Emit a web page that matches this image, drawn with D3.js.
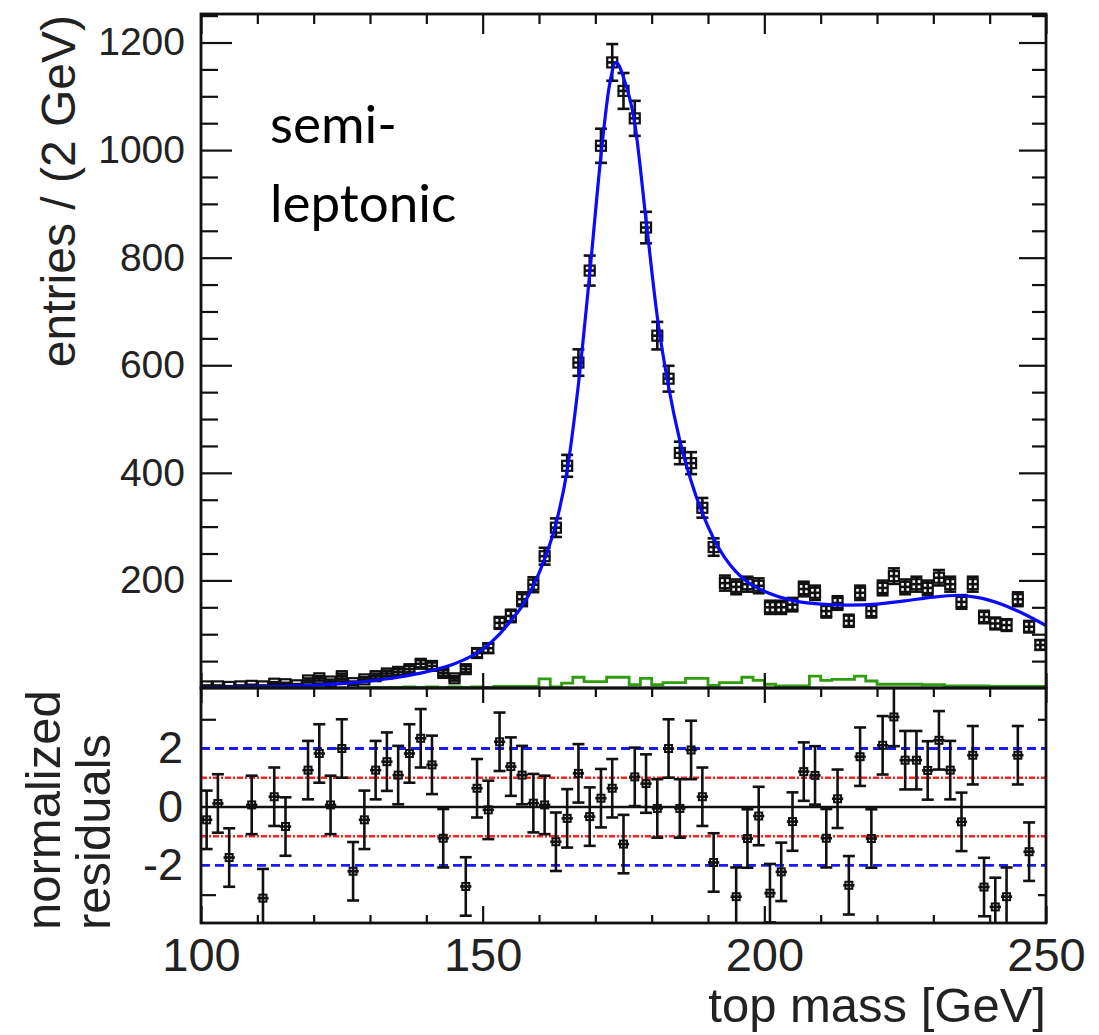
<!DOCTYPE html>
<html>
<head>
<meta charset="utf-8">
<script src="https://cdn.jsdelivr.net/npm/d3@7"></script>
<style>
  html, body { margin: 0; padding: 0; background: #fff; }
  svg { display: block; }
</style>
</head>
<body>
<script>
// ---------------- data ----------------
const binWidth = 2;
const massBins = d3.range(101, 250, 2); // bin centres [GeV]

const entries = [3, 3, 2, 3, 4, 3, 8, 7, 5, 14,
  18, 12, 22, 9, 16, 22, 27, 30, 35, 45,
  41, 28, 18, 35, 65, 74, 121, 134, 165, 192,
  245, 298, 413, 605, 776, 1008, 1163, 1110, 1059, 856,
  655, 575, 437, 418, 335, 262, 195, 188, 193, 190,
  150, 150, 155, 184, 177, 143, 158, 125, 177, 143,
  186, 208, 188, 193, 186, 205, 193, 160, 193, 132,
  120, 117, 165, 114, 80];

const background = [0, 0, 0, 0, 0, 0, 0, 0, 0, 0,
  0, 0, 0, 0, 0, 1, 1, 1, 2, 1,
  2, 1, 2, 1, 2, 1, 3, 3, 3, 3,
  17, 2, 9, 20, 12, 12, 20, 20, 6, 18,
  6, 10, 10, 18, 18, 5, 10, 10, 20, 14,
  7, 4, 4, 4, 22, 14, 16, 16, 22, 13,
  7, 7, 7, 7, 6, 6, 4, 4, 4, 4,
  3, 3, 3, 3, 3];

const fitMass = [100, 105, 110, 115, 120, 125, 130, 135, 140, 145,
  150, 153, 155, 157, 159, 161, 163, 165, 167, 169,
  171, 172.5, 173.7, 175, 177, 179, 181, 183, 185, 187,
  189, 191, 193, 195, 197, 200, 205, 210, 215, 220,
  225, 230, 234, 238, 242, 246, 250];
const fitValue = [0.5, 1, 2, 3, 5, 8, 13, 20, 30, 45,
  72, 100, 125, 152, 190, 240, 305, 405, 565, 770,
  990, 1120, 1163, 1135, 1050, 870, 690, 560, 460, 385,
  325, 278, 242, 216, 197, 180, 163, 156, 154, 156,
  162, 169, 172, 168, 156, 138, 116];

const residuals = [-0.44, 0.12, -1.73, null, 0.07, -3.12, 0.35, -0.67, null, 1.26,
  1.83, 0.07, 2.0, -2.2, -0.44, 1.26, 1.55, 1.09, 1.83, 2.35,
  1.44, -1.07, null, -2.72, 0.64, -0.1, 2.23, 1.38, 1.09, 0.13,
  0.07, -1.19, -0.39, 1.15, -0.33, 0.3, 0.64, -1.27, 1.03, 0.8,
  -0.05, 2.0, -0.05, 1.95, 0.35, -1.9, null, -3.07, -1.08, -0.31,
  -2.95, -2.22, -0.5, 1.21, 1.08, -1.07, 0.28, -2.68, 1.72, -1.08,
  2.11, 3.08, 1.6, 1.6, 1.25, 2.28, 1.26, -0.51, 1.77, -2.74,
  -3.42, -3.07, 1.77, -1.53, null];
const residualError = 1;

const xMajorTicks = [100, 150, 200, 250];
const xMinorTicks = [110, 120, 130, 140, 160, 170, 180, 190, 210, 220, 230, 240];
const yMajorTicks = [200, 400, 600, 800, 1000, 1200];
const yMinorTicks = [50, 100, 150, 250, 300, 350, 450, 500, 550, 650, 700, 750, 850, 900, 950, 1050, 1100, 1150, 1250];
const resMajorTicks = [-2, 0, 2];
const resMinorTicks = [-3, 3];
const sigmaLines1 = [-1, 1];
const sigmaLines2 = [-2, 2];

const yTitle = "entries / (2 GeV)";
const resTitle = ["normalized", "residuals"];
const xTitle = "top mass [GeV]";
const annotation = ["semi-", "leptonic"];

// ---------------- layout ----------------
const W = 1099, H = 1035;
const L = 201, R = 1046, T = 14, MID = 688, B = 923;
const FONT = "'Liberation Sans', Arial, Helvetica, sans-serif";
const INK = "#111";
const LABEL_INK = "#222";

const x = d3.scaleLinear().domain([100, 250]).range([L, R]);
const yTop = d3.scaleLinear().domain([0, 1253]).range([MID, T]);
const yRes = d3.scaleLinear().domain([-3.97, 4.07]).range([B, MID]);

const svg = d3.select("body").append("svg")
  .attr("width", W).attr("height", H)
  .attr("viewBox", `0 0 ${W} ${H}`);

const defs = svg.append("defs");
defs.append("clipPath").attr("id", "clipTop").append("rect")
  .attr("x", L).attr("y", T).attr("width", R - L).attr("height", MID - T);
defs.append("clipPath").attr("id", "clipRes").append("rect")
  .attr("x", L).attr("y", MID).attr("width", R - L).attr("height", B - MID);

function styleAxis(g) {
  g.select(".domain").remove();
  g.selectAll(".tick line").attr("stroke", INK).attr("stroke-width", 2.2);
  g.selectAll(".tick text").attr("fill", LABEL_INK).attr("font-family", FONT);
}
function addAxis(axis, tx, ty, fontSize) {
  const g = svg.append("g").attr("transform", `translate(${tx},${ty})`).call(axis);
  styleAxis(g);
  if (fontSize) g.selectAll(".tick text").attr("font-size", fontSize);
  return g;
}
const noLabel = () => "";

// ---------------- top panel ----------------
const topPanel = svg.append("g").attr("clip-path", "url(#clipTop)");

// background (green) histogram as steps
const bgPts = [];
massBins.forEach((c, i) => {
  bgPts.push([c - binWidth / 2, background[i]]);
  bgPts.push([c + binWidth / 2, background[i]]);
});
topPanel.append("path")
  .datum(bgPts)
  .attr("fill", "none")
  .attr("stroke", "#2f9e0f")
  .attr("stroke-width", 2.8)
  .attr("d", d3.line().x(d => x(d[0])).y(d => yTop(d[1])));

// data points with error bars
const pts = topPanel.append("g");
massBins.forEach((c, i) => {
  const v = entries[i];
  const e = Math.sqrt(v);
  const cx = x(c), cy = yTop(v);
  const g = pts.append("g").attr("stroke", INK).attr("stroke-width", 2.6).attr("fill", "none");
  g.append("line").attr("x1", cx).attr("x2", cx).attr("y1", yTop(v - e)).attr("y2", yTop(v + e));
  g.append("line").attr("x1", x(c - binWidth / 2)).attr("x2", x(c + binWidth / 2)).attr("y1", cy).attr("y2", cy);
  [v - e, v + e].forEach(yy => {
    g.append("line").attr("x1", cx - 6).attr("x2", cx + 6).attr("y1", yTop(yy)).attr("y2", yTop(yy));
  });
  g.append("rect").attr("x", cx - 5).attr("y", cy - 5).attr("width", 10).attr("height", 10)
    .attr("stroke-width", 2.2);
});

// fit curve
topPanel.append("path")
  .datum(fitMass.map((m, i) => [m, fitValue[i]]))
  .attr("fill", "none")
  .attr("stroke", "#0a0aff")
  .attr("stroke-width", 3.2)
  .attr("d", d3.line().x(d => x(d[0])).y(d => yTop(d[1])).curve(d3.curveMonotoneX));

// ---------------- residual panel ----------------
const resPanel = svg.append("g").attr("clip-path", "url(#clipRes)");
sigmaLines2.forEach(v => {
  resPanel.append("line").attr("x1", L).attr("x2", R).attr("y1", yRes(v)).attr("y2", yRes(v))
    .attr("stroke", "#1a1aff").attr("stroke-width", 2.8).attr("stroke-dasharray", "9,5");
});
sigmaLines1.forEach(v => {
  resPanel.append("line").attr("x1", L).attr("x2", R).attr("y1", yRes(v)).attr("y2", yRes(v))
    .attr("stroke", "#ff2020").attr("stroke-width", 2.6).attr("stroke-dasharray", "6,2,2,2");
});
resPanel.append("line").attr("x1", L).attr("x2", R).attr("y1", yRes(0)).attr("y2", yRes(0))
  .attr("stroke", INK).attr("stroke-width", 2.4);

massBins.forEach((c, i) => {
  const v = residuals[i];
  if (v === null) return;
  const cx = x(c), cy = yRes(v);
  const g = resPanel.append("g").attr("stroke", INK).attr("stroke-width", 2.6).attr("fill", "none");
  g.append("line").attr("x1", cx).attr("x2", cx)
    .attr("y1", yRes(v - residualError)).attr("y2", yRes(v + residualError));
  g.append("line").attr("x1", x(c - binWidth / 2)).attr("x2", x(c + binWidth / 2)).attr("y1", cy).attr("y2", cy);
  [v - residualError, v + residualError].forEach(yy => {
    g.append("line").attr("x1", cx - 6).attr("x2", cx + 6).attr("y1", yRes(yy)).attr("y2", yRes(yy));
  });
  g.append("rect").attr("x", cx - 3.5).attr("y", cy - 3.5).attr("width", 7).attr("height", 7)
    .attr("stroke-width", 2);
});

// ---------------- frames ----------------
svg.append("rect").attr("x", L).attr("y", T).attr("width", R - L).attr("height", MID - T)
  .attr("fill", "none").attr("stroke", INK).attr("stroke-width", 2.8);
svg.append("rect").attr("x", L).attr("y", MID).attr("width", R - L).attr("height", B - MID)
  .attr("fill", "none").attr("stroke", INK).attr("stroke-width", 2.8);

// ---------------- axes ----------------
addAxis(d3.axisLeft(yTop).tickValues(yMajorTicks).tickSize(-31).tickPadding(16).tickFormat(d3.format("d")), L, 0, 39);
addAxis(d3.axisLeft(yTop).tickValues(yMinorTicks).tickSize(-17).tickFormat(noLabel), L, 0);
addAxis(d3.axisRight(yTop).tickValues(yMajorTicks).tickSize(-27).tickFormat(noLabel), R, 0);
addAxis(d3.axisRight(yTop).tickValues(yMinorTicks).tickSize(-14).tickFormat(noLabel), R, 0);
addAxis(d3.axisTop(x).tickValues(xMajorTicks).tickSize(-20).tickFormat(noLabel), 0, T);
addAxis(d3.axisTop(x).tickValues(xMinorTicks).tickSize(-10).tickFormat(noLabel), 0, T);
addAxis(d3.axisBottom(x).tickValues(xMajorTicks).tickSize(-15).tickFormat(noLabel), 0, MID);
addAxis(d3.axisTop(x).tickValues(xMajorTicks).tickSize(-15).tickFormat(noLabel), 0, MID);
addAxis(d3.axisTop(x).tickValues(xMinorTicks).tickSize(-9).tickFormat(noLabel), 0, MID);
// residual labels (their ticks lie under the reference lines)
addAxis(d3.axisLeft(yRes).tickValues(resMajorTicks).tickSize(0).tickPadding(18).tickFormat(d => String(d)), L, 0, 45);
addAxis(d3.axisLeft(yRes).tickValues(resMinorTicks).tickSize(-15).tickFormat(noLabel), L, 0);
addAxis(d3.axisRight(yRes).tickValues(resMinorTicks).tickSize(-8).tickFormat(noLabel), R, 0);
addAxis(d3.axisBottom(x).tickValues(xMajorTicks).tickSize(-17).tickPadding(15).tickFormat(d3.format("d")), 0, B, 47);
addAxis(d3.axisBottom(x).tickValues(xMinorTicks).tickSize(-8).tickFormat(noLabel), 0, B);

// ---------------- titles ----------------
svg.append("text")
  .attr("transform", `translate(75,15) rotate(-90)`)
  .attr("text-anchor", "end")
  .attr("font-family", FONT).attr("font-size", 48).attr("fill", LABEL_INK)
  .text(yTitle);

resTitle.forEach((t, i) => {
  svg.append("text")
    .attr("transform", `translate(${60 + i * 50},930) rotate(-90)`)
    .attr("text-anchor", "start")
    .attr("font-family", FONT).attr("font-size", 49).attr("fill", LABEL_INK)
    .text(t);
});

svg.append("text")
  .attr("x", R).attr("y", 1022)
  .attr("text-anchor", "end")
  .attr("font-family", FONT).attr("font-size", 49).attr("fill", LABEL_INK)
  .text(xTitle);

annotation.forEach((t, i) => {
  svg.append("text")
    .attr("x", 270).attr("y", 143 + i * 79)
    .attr("font-family", "Lato, 'Open Sans', sans-serif").attr("font-size", 53).attr("fill", "#000")
    .text(t);
});
</script>
</body>
</html>
